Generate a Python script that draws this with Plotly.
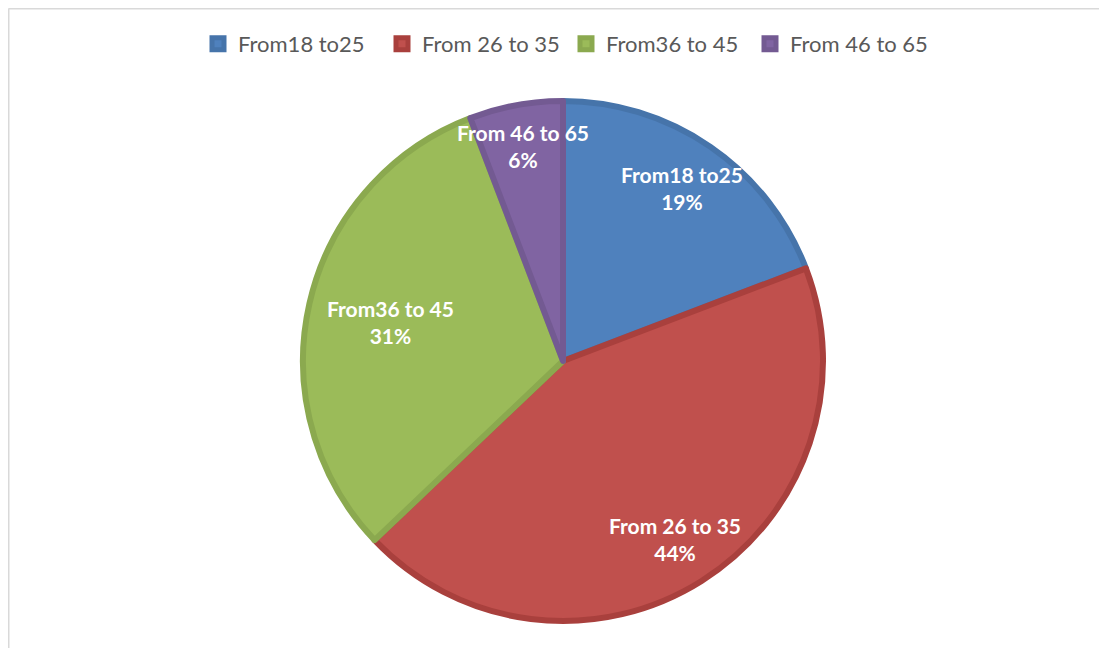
import math
import plotly.graph_objects as go

labels = ["From18 to25", "From 26 to 35", "From36 to 45", "From 46 to 65"]
values = [19.2, 43.7, 31.3, 5.8]

fill_colors = ["#4F81BD", "#C0504D", "#9BBB59", "#8064A2"]
edge_colors = ["#4674AA", "#A9403D", "#8BA94F", "#735A92"]
label_radius = [0.81, 0.81, 0.68, 0.84]  # fraction of pie radius for the data labels

# page has an 8px body margin, so figure coords = page coords - 8
W, H = 1099, 640
cx, cy, R = 555, 353, 260  # pie centre / radius in figure pixels

fig = go.Figure()
fig.add_trace(go.Pie(
    labels=labels, values=values, sort=False, direction="clockwise", rotation=0,
    marker=dict(colors=fill_colors, line=dict(color=edge_colors, width=6)),
    textinfo="none", hoverinfo="label+percent",
    domain=dict(x=[(cx - R) / W, (cx + R) / W], y=[(H - cy - R) / H, (H - cy + R) / H]),
))

# data labels, placed at the middle angle of each slice
total = sum(values)
start = 0
for lab, v, rf in zip(labels, values, label_radius):
    mid = (start + v / 2) / total * 2 * math.pi
    start += v
    px = cx + rf * R * math.sin(mid)
    py = cy - rf * R * math.cos(mid)
    fig.add_annotation(
        x=px / W, y=1 - py / H, xref="paper", yref="paper", showarrow=False,
        xanchor="center", yanchor="middle",
        text=f"<b>{lab}<br>{round(v / total * 100)}%</b>",
        font=dict(family="Lato", size=21, color="white"), align="center",
    )

# light frame (top and left edges visible)
fig.add_shape(type="line", xref="paper", yref="paper", x0=0.5 / W, x1=1, y0=1 - 0.5 / H, y1=1 - 0.5 / H,
              line=dict(color="#D9D9D9", width=2))
fig.add_shape(type="line", xref="paper", yref="paper", x0=0.5 / W, x1=0.5 / W, y0=0, y1=1 - 0.5 / H,
              line=dict(color="#D9D9D9", width=2))

fig.update_layout(
    width=W, height=H, margin=dict(l=0, r=0, t=0, b=0),
    paper_bgcolor="white", plot_bgcolor="white",
    font=dict(family="Lato", size=22, color="#595959"),
    legend=dict(orientation="h", x=(566 - 8) / W, xanchor="center", y=1 - 36 / H, yanchor="middle",
                font=dict(size=22, color="#595959"), itemwidth=30, tracegroupgap=0,
                entrywidth=139, entrywidthmode="pixels"),
)

fig.write_html("out.html")
